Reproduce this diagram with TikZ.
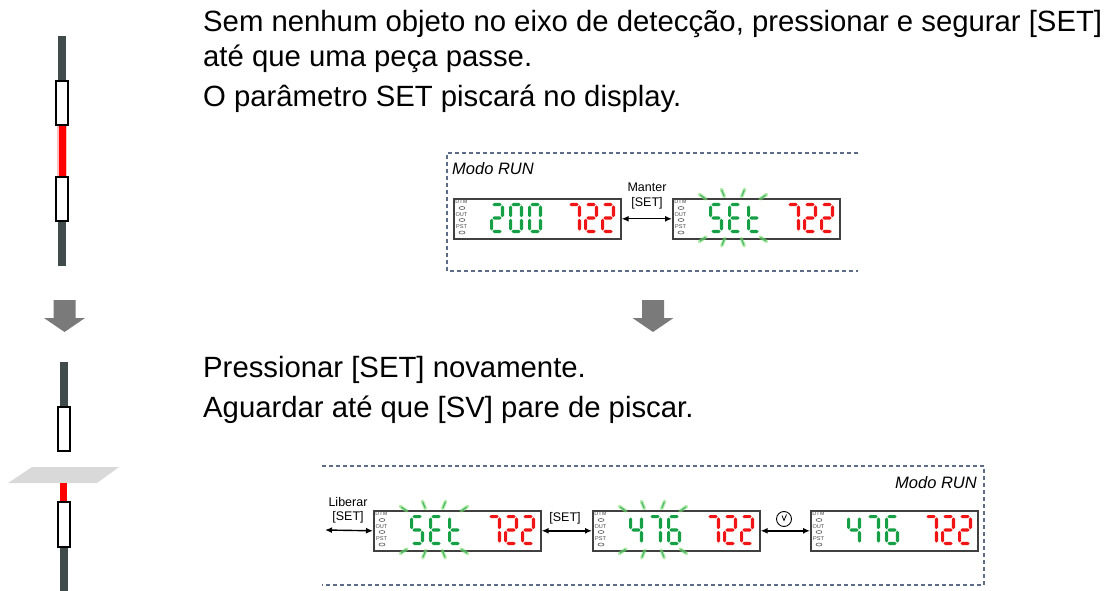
\documentclass[tikz,border=0pt]{standalone}
\usepackage{fontspec}
\setmainfont{Liberation Sans}
\usetikzlibrary{arrows.meta}

\definecolor{segon}{RGB}{22,160,70}
\definecolor{segred}{RGB}{240,20,20}
\definecolor{glowgreen}{RGB}{120,220,100}
\definecolor{rail}{RGB}{64,75,75}
\definecolor{frame}{RGB}{95,108,135}
\definecolor{stepgray}{RGB}{122,122,122}

% one segment, horizontal or vertical
\newcommand\hseg[3]{\fill (#1,#3) -- (#1+1.6,#3-1.6) -- (#2-1.6,#3-1.6) -- (#2,#3) -- (#2-1.6,#3+1.6) -- (#1+1.6,#3+1.6) -- cycle;}
\newcommand\vseg[3]{\fill (#1,#2) -- (#1+1.6,#2+1.6) -- (#1+1.6,#3-1.6) -- (#1,#3) -- (#1-1.6,#3-1.6) -- (#1-1.6,#2+1.6) -- cycle;}
\newcommand\segA{\hseg{2.4}{11.6}{1.6}}
\newcommand\segB{\vseg{12.4}{2.4}{14.2}}
\newcommand\segC{\vseg{12.4}{15.8}{27.6}}
\newcommand\segD{\hseg{2.4}{11.6}{28.4}}
\newcommand\segE{\vseg{1.6}{15.8}{27.6}}
\newcommand\segF{\vseg{1.6}{2.4}{14.2}}
\newcommand\segG{\hseg{2.4}{11.6}{15}}
\newcommand\lcdZero{\segA\segB\segC\segD\segE\segF}
\newcommand\lcdTwo{\segA\segB\segG\segE\segD}
\newcommand\lcdFour{\segF\segG\segB\segC}
\newcommand\lcdSix{\segA\segF\segG\segE\segD\segC}
\newcommand\lcdSeven{\segA\segB\segC}
\newcommand\lcdS{\segA\segF\segG\segC\segD}
\newcommand\lcdE{\segA\segF\segG\segE\segD}
\newcommand\lcdt{\segF\segG\segE\segD}

\tikzset{
  panel/.style={draw=black!75, line width=1.6pt, fill=white, minimum width=167pt, minimum height=40pt, inner sep=0pt, anchor=north west},
  tag/.style={font=\fontsize{5.6}{6}\selectfont, text=black!70, inner sep=0pt},
  lamp/.style={draw=black!60, line width=0.6pt},
  ray/.style={glowgreen, line width=3.4pt, line cap=round, opacity=0.6},
  raycore/.style={segon!80, line width=1.1pt, line cap=round},
  hint/.style={font=\fontsize{12.5}{14}\selectfont, inner sep=0pt},
  mode/.style={font=\fontsize{16.5}{18}\selectfont\itshape, inner sep=0pt},
  say/.style={font=\fontsize{29.3}{35}\selectfont, inner sep=0pt, anchor=base west},
  both/.style={<->, >={Latex[length=7pt,width=6pt]}, line width=1.4pt},
  zone/.style={draw=frame, line width=1.2pt, dash pattern=on 4pt off 3pt},
  sensor/.style={draw=black, line width=2pt, fill=white},
}

% display: name, left, top, green glyphs, red glyphs
\newcommand\lcd[5]{%
  \node[panel] (#1) at (#2,#3) {};
  \node[tag] at (#2+8.5,#3+4) {DTM};
  \draw[lamp] (#2+9,#3+10) ellipse (3 and 1.5);
  \node[tag] at (#2+8.5,#3+16.5) {OUT};
  \draw[lamp] (#2+9,#3+22) ellipse (3 and 1.5);
  \node[tag] at (#2+8.5,#3+29) {PST};
  \draw[lamp] (#2+9,#3+34.5) ellipse (3 and 1.5);
  \foreach \g [count=\i from 0] in {#4} {
    \begin{scope}[shift={(#2+37+19*\i,#3+5)}, segon] \csname lcd\g\endcsname \end{scope}
  }
  \foreach \g [count=\i from 0] in {#5} {
    \begin{scope}[shift={(#2+114+17*\i,#3+5)}, segred] \csname lcd\g\endcsname \end{scope}
  }
}
% flashing rays round the green digits
\newcommand\blink[2]{%
  \begin{scope}[shift={(#1+61,#2+20)}]
    \foreach \a/\r in {-145/37,-112/27,-68/27,-35/37,145/37,112/26,68/26,35/37} {
      \draw[ray] (\a:{\r-4}) -- (\a:{\r+4});
      \draw[raycore] (\a:{\r-3}) -- (\a:{\r+3});
    }
  \end{scope}
}

\begin{document}
\begin{tikzpicture}[x=1pt, y=-1pt]
\useasboundingbox (0,0) rectangle (1112,591);

% sensor, free beam
\fill[rail] (58,36) rectangle (66,266);
\fill[red!25] (57,125) rectangle (67,177);
\fill[red] (58.5,125) rectangle (65.5,177);
\draw[sensor] (56,81) rectangle (68,125);
\draw[sensor] (56,177) rectangle (68,221);

% sensor, beam cut by a part
\fill[rail] (59.5,362) rectangle (67.5,407);
\draw[sensor] (57.5,407) rectangle (69.5,451);
\fill[black!15] (8,483) -- (32,467) -- (119,467) -- (97,483) -- cycle;
\fill[red] (60,483) rectangle (67,502);
\fill[rail] (59.5,547) rectangle (67.5,591);
\draw[sensor] (57.5,502) rectangle (69.5,547);

% step arrows
\foreach \c in {64.5,653}
  \fill[stepgray] (\c-11,300) -- (\c+11,300) -- (\c+11,318) -- (\c+20.5,318) -- (\c,332) -- (\c-20.5,318) -- (\c-11,318) -- cycle;

\node[say] (l1) at (203,32) {Sem nenhum objeto no eixo de detecção, pressionar e segurar [SET]};
\node[say] (l2) at (203,67) {até que uma peça passe.};
\node[say] (l3) at (203,107) {O parâmetro SET piscará no display.};
\node[say] (l4) at (203,377) {Pressionar [SET] novamente.};
\node[say] (l5) at (203,417) {Aguardar até que [SV] pare de piscar.};

% first step
\draw[zone] (858,153) -- (447,153) -- (447,271) -- (858,271);
\node[mode, anchor=west] (m1) at (452,168.5) {Modo RUN};
\lcd{run}{453}{198}{Two,Zero,Zero}{Seven,Two,Two}
\lcd{hold}{672}{198}{S,E,t}{Seven,Two,Two}
\blink{672}{198}
\node[hint] (k1) at (647,187) {Manter};
\node[hint] (k2) at (647,203) {[SET]};
\draw[both] (run.east) -- (hold.west);

% second step
\draw[zone] (322,466) -- (984,466) -- (984,585) -- (322,585);
\node[mode, anchor=east] (m2) at (977,483) {Modo RUN};
\lcd{free}{373}{510}{S,E,t}{Seven,Two,Two}
\blink{373}{510}
\lcd{teach}{592}{510}{Four,Seven,Six}{Seven,Two,Two}
\blink{592}{510}
\lcd{done}{810}{510}{Four,Seven,Six}{Seven,Two,Two}
\coordinate (in) at (325,530);
\node[hint] (k3) at (348,502) {Liberar};
\node[hint] (k4) at (348,517) {[SET]};
\draw[both] (in) -- (free.west);
\node[hint] (k5) at (565,518) {[SET]};
\draw[both] (free.east) -- (teach.west);
\node[draw, circle, line width=0.9pt, minimum size=15pt, inner sep=0pt] (clk) at (784,519) {};
\draw[line width=0.8pt] (clk.center) ++(-2,-3.5) -- ++(2,5) -- ++(2.5,-6);
\draw[both] (teach.east) -- (done.west);
\end{tikzpicture}
\end{document}
